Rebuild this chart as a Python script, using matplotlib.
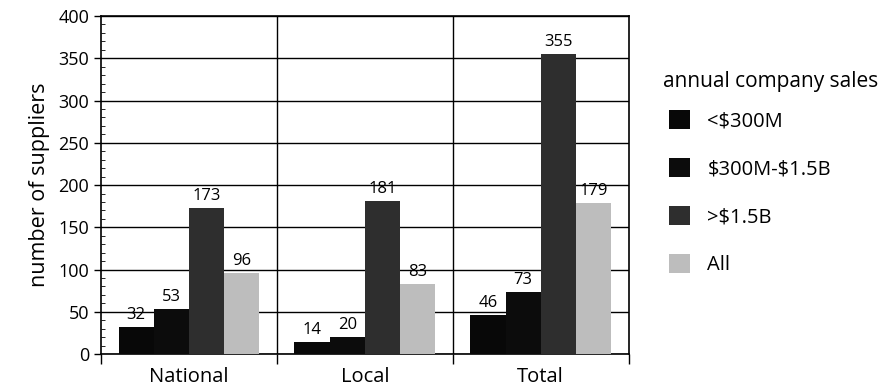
import matplotlib
matplotlib.use('Agg')
import matplotlib.pyplot as plt
from matplotlib.patches import Patch
from matplotlib.ticker import MultipleLocator

plt.rcParams['font.family'] = ['Open Sans', 'DejaVu Sans']

groups = ["National", "Local", "Total"]
series = [r"<\$300M", r"\$300M-\$1.5B", r">\$1.5B", "All"]
values = [
    [32, 14, 46],     # <$300M
    [53, 20, 73],     # $300M-$1.5B
    [173, 181, 355],  # >$1.5B
    [96, 83, 179],    # All
]
colors = ["#080808", "#0c0c0c", "#2e2e2e", "#bdbdbd"]

fig = plt.figure(figsize=(8.93, 3.9), dpi=100)
ax = fig.add_axes([0.113, 0.092, 0.591, 0.867])

bw = 0.2
for i, (name, vals) in enumerate(zip(series, values)):
    xs = [g + 0.5 + (i - 1.5) * bw for g in range(len(groups))]
    ax.bar(xs, vals, width=bw, color=colors[i], edgecolor='none', zorder=3, label=name)
    for x, v in zip(xs, vals):
        ax.annotate(str(v), (x, v), xytext=(0, 3), textcoords='offset points',
                    ha='center', va='bottom', fontsize=12, zorder=4)

ax.set_xlim(0, 3)
ax.set_ylim(0, 400)
ax.yaxis.set_major_locator(MultipleLocator(50))
ax.yaxis.set_minor_locator(MultipleLocator(10))
ax.tick_params(axis='y', which='major', labelsize=13, length=5, width=1, direction='out')
ax.tick_params(axis='y', which='minor', length=3, width=0.6, direction='in')
ax.grid(axis='y', which='major', color='black', lw=1, zorder=1)

# group separators and labels
ax.set_xticks([0, 1, 2, 3])
ax.set_xticklabels([])
ax.tick_params(axis='x', which='major', length=7, width=1, direction='out')
ax.set_xticks([0.5, 1.5, 2.5], minor=True)
ax.set_xticklabels(groups, minor=True, fontsize=14.5)
ax.tick_params(axis='x', which='minor', length=0, pad=9)
for xb in [1, 2]:
    ax.axvline(xb, color='black', lw=1, zorder=1)

for sp in ax.spines.values():
    sp.set_linewidth(1.2)

ax.set_ylabel("number of suppliers", fontsize=15.5, labelpad=6)

# legend: title as separate text so the gap below it can be set
fig.text(0.742, 0.79, "annual company sales", fontsize=15, ha='left', va='center')
handles = [Patch(facecolor=c, edgecolor='none') for c in colors]
fig.legend(handles, series, loc='center left', bbox_to_anchor=(0.738, 0.506),
           frameon=False, fontsize=14.5, labelspacing=1.33, handlelength=1.05,
           handleheight=1.05, handletextpad=0.85, borderpad=0.0)

fig.savefig("out.png", dpi=100, facecolor='white')
